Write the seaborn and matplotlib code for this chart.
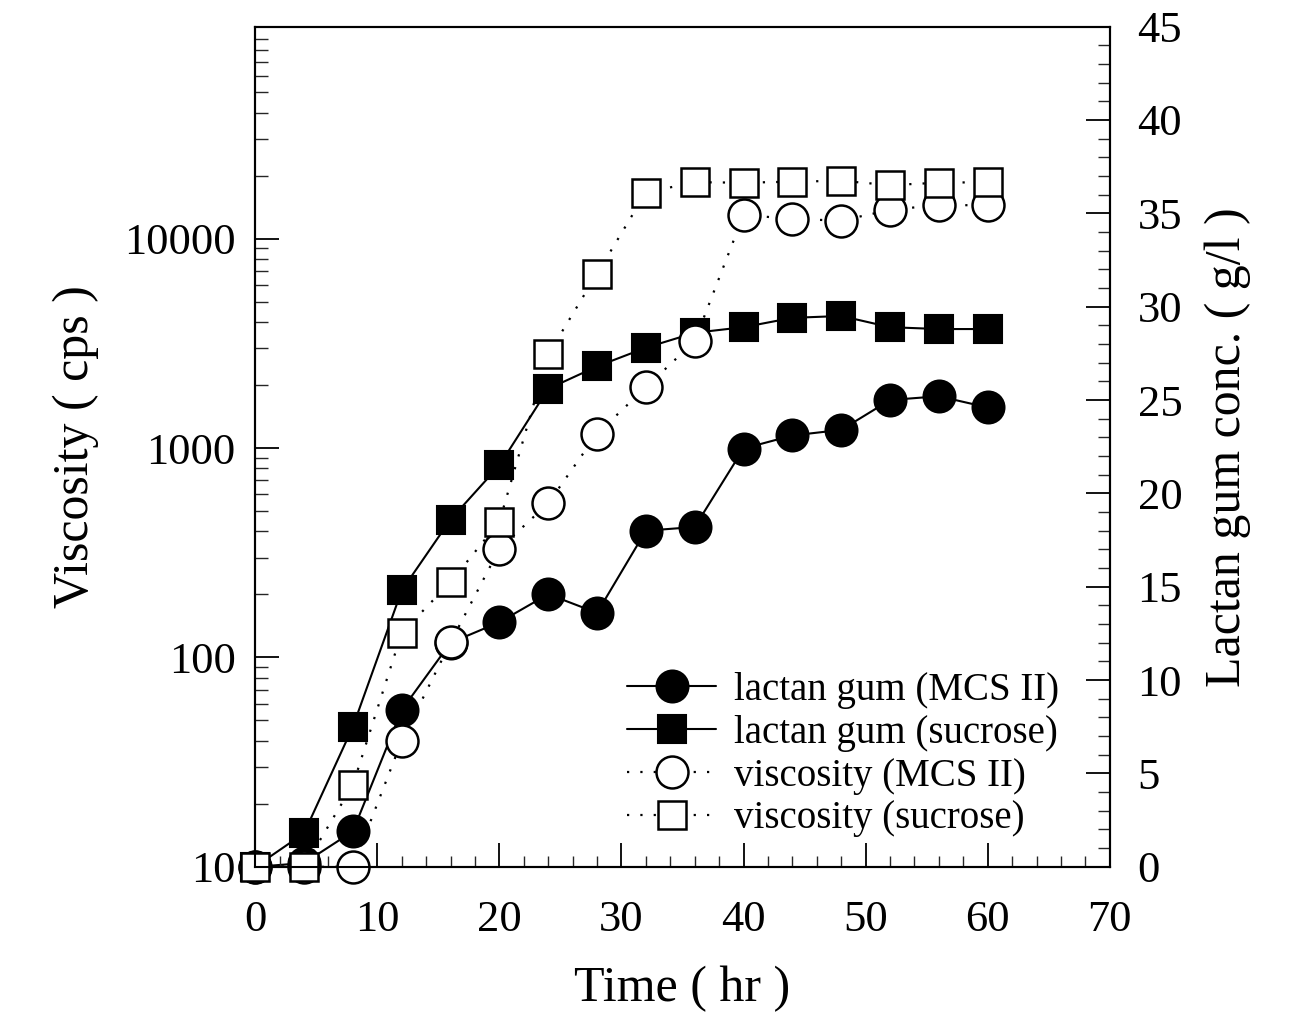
import matplotlib
matplotlib.use("Agg")
import matplotlib.pyplot as plt
import numpy as np
import seaborn as sns
from matplotlib.ticker import FixedLocator, FixedFormatter, LogLocator, MultipleLocator, NullFormatter

sns.set_theme(style="white")
plt.rcParams["font.family"] = ["Liberation Serif", "DejaVu Serif"]
plt.rcParams["text.color"] = "black"
plt.rcParams["axes.labelcolor"] = "black"

# sampling times (hr)
TIME = [0, 4, 8, 12, 16, 20, 24, 28, 32, 36, 40, 44, 48, 52, 56, 60]

# lactan gum concentration (g/l), right axis
GUM_MCS = [0, 0.2, 1.9, 8.4, 12.0, 13.1, 14.6, 13.6, 18.0, 18.2, 22.4, 23.1, 23.4, 25.0, 25.2, 24.6]
GUM_SUC = [0, 1.8, 7.5, 14.8, 18.6, 21.5, 25.6, 26.8, 27.8, 28.6, 28.9, 29.4, 29.5, 28.9, 28.8, 28.8]

# viscosity (cps), left log axis
VISC_MCS = [10, 10, 10, 40, 118, 330, 545, 1170, 1950, 3240, 13000, 12400, 12200, 13700, 14500, 14400]
VISC_SUC = [10, 10, 24.6, 131, 229, 445, 2800, 6800, 16600, 18600, 18500, 18700, 18900, 18000, 18500, 18600]

LABELS = ["lactan gum (MCS II)", "lactan gum (sucrose)", "viscosity (MCS II)", "viscosity (sucrose)"]

fig = plt.figure(figsize=(12.89, 10.21), dpi=100)
ax = fig.add_axes([0.198, 0.151, 0.663, 0.823])
ax2 = ax.twinx()
# viscosity markers sit above the gum markers
ax.set_zorder(ax2.get_zorder() + 1)
ax.patch.set_visible(False)

solid = dict(color="black", lw=1.5, markeredgecolor="black", markeredgewidth=1.5, clip_on=False)
dotted = dict(color="black", lw=1.6, ls=(0, (1, 5)), markerfacecolor="white",
              markeredgecolor="black", markeredgewidth=1.8, clip_on=False)

sns.lineplot(x=TIME, y=GUM_MCS, ax=ax2, marker="o", markersize=23, markerfacecolor="black",
             label=LABELS[0], **solid)
sns.lineplot(x=TIME, y=GUM_SUC, ax=ax2, marker="s", markersize=20, markerfacecolor="black",
             label=LABELS[1], **solid)
sns.lineplot(x=TIME, y=VISC_MCS, ax=ax, marker="o", markersize=23, label=LABELS[2], **dotted)
sns.lineplot(x=TIME, y=VISC_SUC, ax=ax, marker="s", markersize=20, label=LABELS[3], **dotted)

# left axis: log viscosity
ax.set_yscale("log")
ax.set_ylim(10, 1.03e5)
ax.yaxis.set_major_locator(FixedLocator([10, 100, 1000, 10000]))
ax.yaxis.set_major_formatter(FixedFormatter(["10", "100", "1000", "10000"]))
ax.yaxis.set_minor_locator(LogLocator(base=10, subs=np.arange(2, 10)))
ax.yaxis.set_minor_formatter(NullFormatter())

ax.set_xlim(0, 70)
ax.xaxis.set_major_locator(MultipleLocator(10))
ax.xaxis.set_minor_locator(MultipleLocator(2))

# right axis: gum concentration
ax2.set_ylim(0, 45)
ax2.yaxis.set_major_locator(MultipleLocator(5))
ax2.yaxis.set_minor_locator(MultipleLocator(1))

ax.tick_params(axis="y", which="major", direction="in", length=17, width=1.3, left=True,
               right=False, labelsize=32, pad=14, colors="black")
ax.tick_params(axis="y", which="minor", direction="in", length=9, width=1.0, left=True, right=False)
ax.tick_params(axis="x", which="major", direction="in", length=17, width=1.3, bottom=True,
               top=False, labelsize=32, pad=24, colors="black")
ax.tick_params(axis="x", which="minor", direction="in", length=8, width=1.0, bottom=True, top=False)
ax2.tick_params(axis="y", which="major", direction="in", length=17, width=1.3, right=True,
                left=False, labelsize=32, pad=20, colors="black")
ax2.tick_params(axis="y", which="minor", direction="in", length=9, width=1.0, right=True, left=False)

for a in (ax, ax2):
    a.grid(False)
    for sp in a.spines.values():
        sp.set_color("black")
        sp.set_linewidth(1.5)

ax.set_xlabel("Time ( hr )", fontsize=36, color="black", labelpad=18)
ax.set_ylabel("Viscosity ( cps )", fontsize=36, color="black", labelpad=18)
ax2.set_ylabel("Lactan gum conc. ( g/l )", fontsize=36, color="black", labelpad=16)

h2, l2 = ax2.get_legend_handles_labels()
h1, l1 = ax.get_legend_handles_labels()
if ax2.get_legend() is not None:
    ax2.get_legend().remove()
leg = ax.legend(h2 + h1, l2 + l1, loc="lower left", bbox_to_anchor=(0.435, 0.035), frameon=False,
                fontsize=28, handlelength=2.3, handletextpad=0.45, labelspacing=0.15,
                borderpad=0, borderaxespad=0)
for t in leg.get_texts():
    t.set_color("black")

fig.savefig("out.png", dpi=100)
